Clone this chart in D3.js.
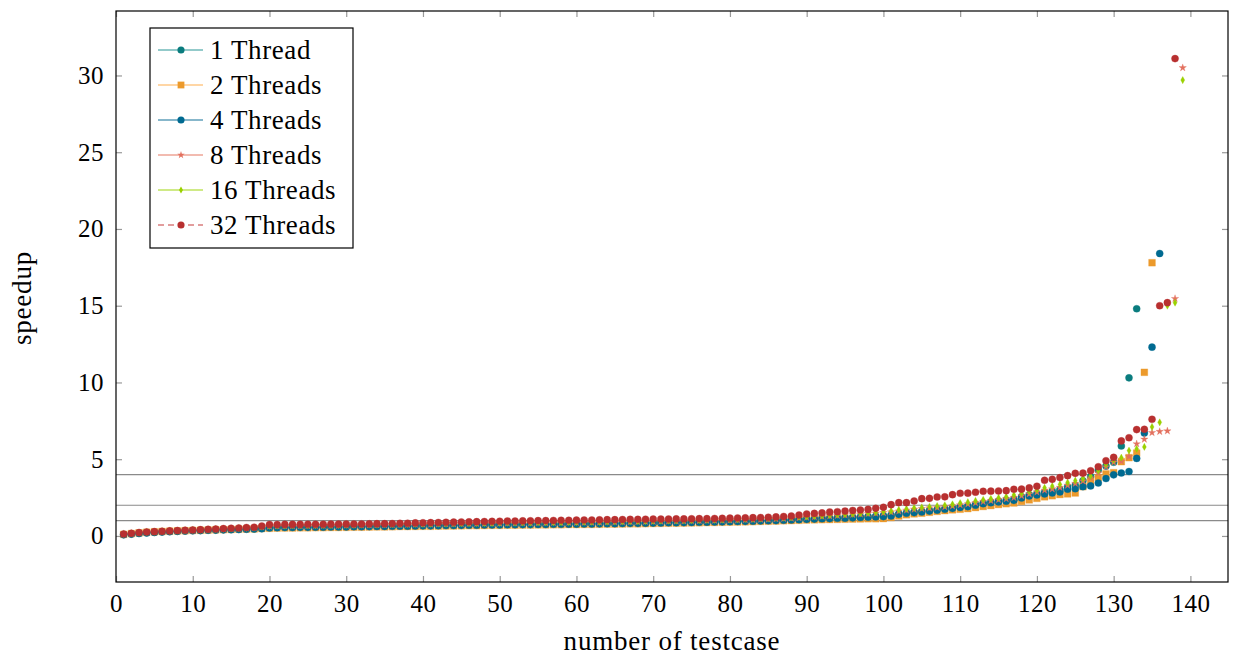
<!DOCTYPE html>
<html>
<head>
<meta charset="utf-8">
<script src="https://cdn.jsdelivr.net/npm/d3@7"></script>
<style>
  body { margin: 0; background: #fff; }
  svg { display: block; font-family: "Liberation Serif", "DejaVu Serif", serif; }
</style>
</head>
<body>
<svg id="chart" width="1235" height="656"></svg>
<script>
// sorted speedups per test case, one array per thread count
var t1 = [0.09,0.13,0.17,0.21,0.24,0.27,0.29,0.31,0.33,0.35,0.36,0.38,0.39,0.41,0.42,0.43,0.45,0.46,0.49,0.55,
  0.56,0.57,0.57,0.58,0.58,0.59,0.59,0.60,0.60,0.61,0.62,0.62,0.63,0.64,0.64,
  0.65,0.66,0.66,0.67,0.68,0.68,0.69,0.70,0.70,0.71,0.72,0.72,0.73,0.74,0.74,
  0.75,0.75,0.76,0.76,0.77,0.77,0.78,0.78,0.79,0.79,0.80,0.80,0.81,0.82,0.82,0.83,0.84,0.84,0.85,0.86,
  0.87,0.88,0.88,0.89,0.90,0.91,0.92,0.93,0.94,0.95,0.96,0.97,0.98,1.00,
  1.01,1.03,1.05,1.07,1.09,1.11,1.13,1.15,1.17,1.19,1.21,1.23,1.25,1.27,1.29,1.32,
  1.36,1.44,1.51,1.56,1.61,1.66,1.72,1.78,1.84,1.90,1.96,2.05,2.14,2.20,2.27,2.33,2.40,2.55,2.68,2.76,
  2.85,2.93,3.02,3.20,3.30,3.60,3.85,4.30,4.55,4.80,5.86,10.3,14.8];
var t2 = [0.10,0.15,0.20,0.24,0.27,0.29,0.31,0.33,0.34,0.36,0.37,0.38,0.40,0.41,0.42,0.44,0.45,0.46,0.48,0.50,
  0.51,0.52,0.52,0.53,0.53,0.54,0.54,0.55,0.55,0.56,0.57,0.57,0.58,0.59,0.59,
  0.60,0.61,0.61,0.62,0.63,0.63,0.64,0.65,0.65,0.66,0.67,0.67,0.68,0.69,0.69,
  0.70,0.70,0.71,0.71,0.72,0.72,0.73,0.73,0.74,0.74,0.75,0.75,0.76,0.77,0.77,0.78,0.79,0.79,0.80,0.81,
  0.82,0.83,0.83,0.84,0.85,0.86,0.87,0.88,0.89,0.90,0.91,0.92,0.93,0.95,
  0.96,0.97,0.99,1.00,1.02,1.04,1.05,1.06,1.07,1.08,1.09,1.10,1.11,1.12,1.12,1.13,
  1.20,1.30,1.38,1.44,1.48,1.54,1.60,1.65,1.70,1.74,1.78,1.85,1.92,1.98,2.05,2.10,2.15,2.25,2.35,2.45,
  2.55,2.62,2.70,2.74,2.80,3.21,3.54,3.80,4.04,4.12,4.84,5.10,5.40,10.66,17.8];
var t4 = [0.08,0.12,0.16,0.20,0.23,0.26,0.28,0.30,0.32,0.34,0.35,0.37,0.38,0.40,0.41,0.42,0.44,0.45,0.47,0.52,
  0.54,0.55,0.55,0.56,0.56,0.57,0.57,0.58,0.58,0.59,0.60,0.60,0.61,0.62,0.62,
  0.63,0.64,0.64,0.65,0.66,0.66,0.67,0.68,0.68,0.69,0.70,0.70,0.71,0.72,0.72,
  0.73,0.73,0.74,0.74,0.75,0.75,0.76,0.76,0.77,0.77,0.78,0.78,0.79,0.80,0.80,0.81,0.82,0.82,0.83,0.84,
  0.85,0.86,0.86,0.87,0.88,0.89,0.90,0.91,0.92,0.93,0.94,0.95,0.96,0.98,
  0.99,1.00,1.02,1.04,1.06,1.08,1.10,1.12,1.13,1.15,1.16,1.18,1.20,1.22,1.24,1.26,
  1.30,1.41,1.48,1.52,1.56,1.62,1.68,1.74,1.80,1.86,1.91,2.00,2.10,2.16,2.22,2.26,2.32,2.47,2.60,2.67,
  2.74,2.80,2.87,3.05,3.08,3.21,3.26,3.45,3.74,3.98,4.10,4.20,5.05,6.70,12.3,18.4];
var t8 = [0.11,0.16,0.21,0.25,0.27,0.29,0.32,0.34,0.36,0.37,0.39,0.41,0.43,0.45,0.47,0.49,0.51,0.53,0.58,0.63,
  0.64,0.65,0.65,0.66,0.66,0.67,0.67,0.68,0.68,0.69,0.70,0.70,0.71,0.72,0.72,
  0.73,0.74,0.74,0.75,0.76,0.76,0.77,0.78,0.78,0.79,0.80,0.80,0.81,0.82,0.82,
  0.83,0.83,0.84,0.84,0.85,0.85,0.86,0.86,0.87,0.87,0.88,0.88,0.89,0.90,0.90,0.91,0.92,0.92,0.93,0.94,
  0.95,0.96,0.96,0.97,0.98,0.99,1.00,1.01,1.02,1.03,1.04,1.05,1.06,1.08,
  1.09,1.11,1.13,1.15,1.18,1.21,1.24,1.27,1.30,1.33,1.36,1.39,1.42,1.45,1.48,1.51,
  1.56,1.62,1.68,1.74,1.78,1.82,1.86,1.90,1.95,2.02,2.08,2.16,2.24,2.30,2.36,2.42,2.50,2.62,2.74,2.86,
  2.98,3.06,3.16,3.30,3.42,3.58,3.78,4.10,4.50,4.80,4.86,5.17,6.00,6.30,6.73,6.80,6.84,15.46,30.5];
var t16 = [0.11,0.16,0.21,0.25,0.27,0.30,0.32,0.34,0.36,0.38,0.40,0.42,0.44,0.46,0.48,0.50,0.52,0.54,0.60,0.66,
  0.67,0.67,0.68,0.68,0.69,0.69,0.70,0.70,0.71,0.72,0.72,0.73,0.74,0.74,0.75,
  0.76,0.76,0.77,0.78,0.78,0.79,0.80,0.80,0.81,0.82,0.82,0.83,0.84,0.84,0.85,
  0.86,0.86,0.87,0.87,0.88,0.88,0.89,0.89,0.90,0.90,0.91,0.92,0.92,0.93,0.94,0.94,0.95,0.96,0.97,0.98,
  0.99,1.00,1.00,1.01,1.02,1.03,1.04,1.05,1.06,1.07,1.08,1.10,1.11,1.13,
  1.15,1.17,1.19,1.21,1.24,1.26,1.29,1.32,1.35,1.38,1.41,1.44,1.47,1.50,1.54,1.58,
  1.63,1.70,1.76,1.82,1.86,1.90,1.95,2.00,2.06,2.14,2.20,2.28,2.36,2.42,2.48,2.56,2.66,2.78,2.90,3.00,
  3.14,3.24,3.36,3.48,3.60,3.74,3.90,4.25,4.67,4.95,5.10,5.56,5.67,5.80,7.10,7.40,15.0,15.2,29.7];
var t32 = [0.13,0.17,0.22,0.26,0.28,0.30,0.33,0.35,0.37,0.39,0.41,0.43,0.45,0.48,0.50,0.52,0.55,0.57,0.65,0.74,
  0.74,0.75,0.75,0.75,0.76,0.76,0.76,0.77,0.77,0.78,0.78,0.78,0.79,0.80,0.80,
  0.81,0.82,0.83,0.85,0.86,0.87,0.88,0.89,0.90,0.91,0.92,0.93,0.94,0.95,0.96,
  0.97,0.97,0.98,0.99,1.00,1.00,1.01,1.02,1.02,1.03,1.04,1.04,1.05,1.06,1.06,1.07,1.08,1.08,1.09,1.10,
  1.10,1.10,1.11,1.11,1.12,1.13,1.13,1.14,1.15,1.16,1.17,1.18,1.19,1.20,
  1.22,1.24,1.27,1.30,1.36,1.43,1.47,1.50,1.55,1.58,1.62,1.66,1.69,1.73,1.80,1.87,
  2.04,2.17,2.17,2.28,2.43,2.45,2.54,2.55,2.69,2.78,2.79,2.85,2.91,2.92,2.93,2.95,3.04,3.05,3.13,3.24,
  3.63,3.69,3.80,3.93,4.08,4.09,4.25,4.51,4.90,5.12,6.19,6.40,6.93,6.95,7.60,15.0,15.2,31.1];

var seriesNames = ["1 Thread", "2 Threads", "4 Threads", "8 Threads", "16 Threads", "32 Threads"];
var seriesValues = [t1, t2, t4, t8, t16, t32];
var refLines = [1, 2, 4];
var xTicks = d3.range(0, 141, 10);
var yTicks = [0, 5, 10, 15, 20, 25, 30];

// marker look per series
var markColor = ["#0a7c7e", "#ec9a2c", "#006a91", "#e3705e", "#9ad100", "#b83030"];
var lineColor = ["#6fb8b8", "#ffc987", "#5f9fba", "#eea596", "#bfe35e", "#d97d7d"];
var markShape = ["circle", "square", "circle", "star", "diamond", "circle"];

function drawChart() {
    var svg = d3.select("#chart");
    var pLeft = 116, pRight = 1228, pTop = 11, pBottom = 582;

    var x = d3.scaleLinear().domain([0, 144.9]).range([pLeft, pRight]);
    var y = d3.scaleLinear().domain([-3, 34.2]).range([pBottom, pTop]);

    function markPath(shape) {
        if (shape === "square") return d3.symbol(d3.symbolSquare, 46)();
        if (shape === "star") return d3.symbol(d3.symbolStar, 17)();
        if (shape === "diamond") return "M0,-3.6L2,0L0,3.6L-2,0Z";
        return d3.symbol(d3.symbolCircle, 40)();
    }

    // reference lines
    svg.selectAll("line.ref").data(refLines).enter().append("line")
        .attr("class", "ref")
        .attr("x1", pLeft).attr("x2", pRight)
        .attr("y1", function(d){ return y(d); }).attr("y2", function(d){ return y(d); })
        .attr("stroke", "#8a8a8a").attr("stroke-width", 1.2);

    // axes, ticks pointing inward
    var gx = svg.append("g").attr("transform", "translate(0," + pBottom + ")")
        .call(d3.axisBottom(x).tickValues(xTicks).tickSizeInner(-6).tickSizeOuter(0).tickPadding(12));
    var gxTop = svg.append("g").attr("transform", "translate(0," + pTop + ")")
        .call(d3.axisTop(x).tickValues(xTicks).tickSizeInner(-6).tickSizeOuter(0).tickFormat(""));
    var gy = svg.append("g").attr("transform", "translate(" + pLeft + ",0)")
        .call(d3.axisLeft(y).tickValues(yTicks).tickSizeInner(-6).tickSizeOuter(0).tickPadding(12));
    var gyRight = svg.append("g").attr("transform", "translate(" + pRight + ",0)")
        .call(d3.axisRight(y).tickValues(yTicks).tickSizeInner(-6).tickSizeOuter(0).tickFormat(""));

    [gx, gxTop, gy, gyRight].forEach(function(g){
        g.select(".domain").remove();
        g.selectAll(".tick line").attr("stroke", "#999").attr("stroke-width", 1.2);
        g.selectAll(".tick text").attr("font-family", "Liberation Serif, serif")
            .attr("font-size", 25).attr("letter-spacing", 0.5).attr("fill", "#000");
    });

    // markers
    for (var s = 0; s < seriesValues.length; s++) {
        svg.append("g").selectAll("path").data(seriesValues[s]).enter().append("path")
            .attr("d", markPath(markShape[s]))
            .attr("transform", function(d, i){ return "translate(" + x(i + 1) + "," + y(d) + ")"; })
            .attr("fill", markColor[s])
            .attr("stroke", markColor[s]).attr("stroke-width", 0.6).attr("stroke-opacity", 0.5);
    }

    // frame
    svg.append("rect").attr("x", pLeft).attr("y", pTop)
        .attr("width", pRight - pLeft).attr("height", pBottom - pTop)
        .attr("fill", "none").attr("stroke", "#000").attr("stroke-width", 1.2);

    // legend
    var lg = svg.append("g");
    lg.append("rect").attr("x", 150).attr("y", 28).attr("width", 203).attr("height", 220)
        .attr("fill", "#fff").attr("stroke", "#000").attr("stroke-width", 1.2);
    seriesNames.forEach(function(name, i){
        var ly = 50 + i * 35;
        lg.append("line").attr("x1", 158).attr("x2", 203).attr("y1", ly).attr("y2", ly)
            .attr("stroke", lineColor[i]).attr("stroke-width", 1.6)
            .attr("stroke-dasharray", i === 5 ? "6,4" : null);
        lg.append("path").attr("d", markPath(markShape[i]))
            .attr("transform", "translate(181," + ly + ")")
            .attr("fill", markColor[i]);
        lg.append("text").attr("x", 210).attr("y", ly + 9)
            .attr("font-size", 27).attr("letter-spacing", 0.6).text(name);
    });

    // axis titles
    svg.append("text").attr("x", 672).attr("y", 650)
        .attr("text-anchor", "middle").attr("font-size", 27).attr("letter-spacing", 0.8)
        .text("number of testcase");
    svg.append("text").attr("transform", "translate(31," + y(15.5) + ") rotate(-90)")
        .attr("text-anchor", "middle").attr("font-size", 27).attr("letter-spacing", 0.8)
        .text("speedup");
}

drawChart();
</script>
</body>
</html>
